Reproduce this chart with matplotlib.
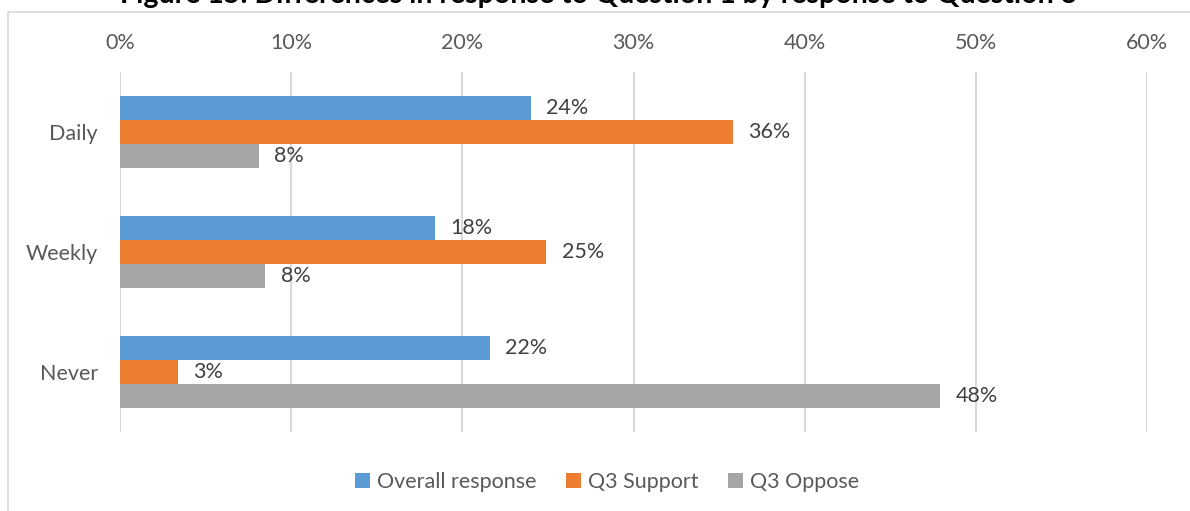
import matplotlib
matplotlib.use("Agg")
import matplotlib.pyplot as plt
import numpy as np
from matplotlib.patches import Rectangle

plt.rcParams["font.family"] = ["Lato", "DejaVu Sans"]

TITLE = "Figure 15: Differences in response to Question 1 by response to Question 3"
categories = ["Daily", "Weekly", "Never"]
series_names = ["Overall response", "Q3 Support", "Q3 Oppose"]
overall = [24.0, 18.4, 21.6]
support = [35.8, 24.9, 3.4]
oppose = [8.1, 8.5, 47.9]
x_ticks = [0, 10, 20, 30, 40, 50, 60]

COLORS = ["#5B9BD5", "#ED7D31", "#A5A5A5"]
TEXT = "#595959"
GRID = "#D9D9D9"
FS = 15.5

fig = plt.figure(figsize=(11.9, 5.11), dpi=100)
fig.patch.set_facecolor("white")

# chart frame (partly clipped by the image edge)
fig.patches.append(Rectangle((8 / 1190, -0.1), 1.2, (511 - 12) / 511 + 0.1,
                             transform=fig.transFigure, fill=False,
                             edgecolor=GRID, linewidth=1.2))

# title sits mostly above the image, only its lower part shows
fig.text(599 / 1190, (511 - 3) / 511, TITLE, ha="center", va="baseline",
         fontsize=20.5, fontweight="bold", color="black")

ax = fig.add_axes([120 / 1190, (511 - 432) / 511, 1027 / 1190, 360 / 511])

y = np.arange(len(categories)) + 0.5
h = 0.2
values = [overall, support, oppose]
for i, (name, vals, col) in enumerate(zip(series_names, values, COLORS)):
    ypos = y + (i - 1) * h
    ax.barh(ypos, vals, height=h, color=col, label=name, zorder=3)
    for yy, v in zip(ypos, vals):
        ax.text(v + 0.9, yy, f"{v:.0f}%", va="center", ha="left",
                fontsize=FS, color="#404040", zorder=4)

ax.set_xlim(0, 60)
ax.set_ylim(len(categories), 0)
ax.set_xticks(x_ticks)
ax.set_xticklabels([f"{t}%" for t in x_ticks])
ax.set_yticks(y)
ax.set_yticklabels(categories)
ax.xaxis.tick_top()
ax.tick_params(axis="x", length=0, pad=14, labelsize=FS, labelcolor=TEXT)
ax.tick_params(axis="y", length=0, pad=16, labelsize=FS, labelcolor=TEXT)
for s in ax.spines.values():
    s.set_visible(False)
ax.grid(axis="x", color=GRID, linewidth=1.5, zorder=0)

ax.legend(loc="center", bbox_to_anchor=(607 / 1190, 29 / 511),
          bbox_transform=fig.transFigure, ncol=3, frameon=False,
          fontsize=FS, labelcolor=TEXT, handlelength=0.7, handleheight=0.7,
          handletextpad=0.3, columnspacing=1.4)

fig.savefig("out.png", dpi=100, facecolor="white")
